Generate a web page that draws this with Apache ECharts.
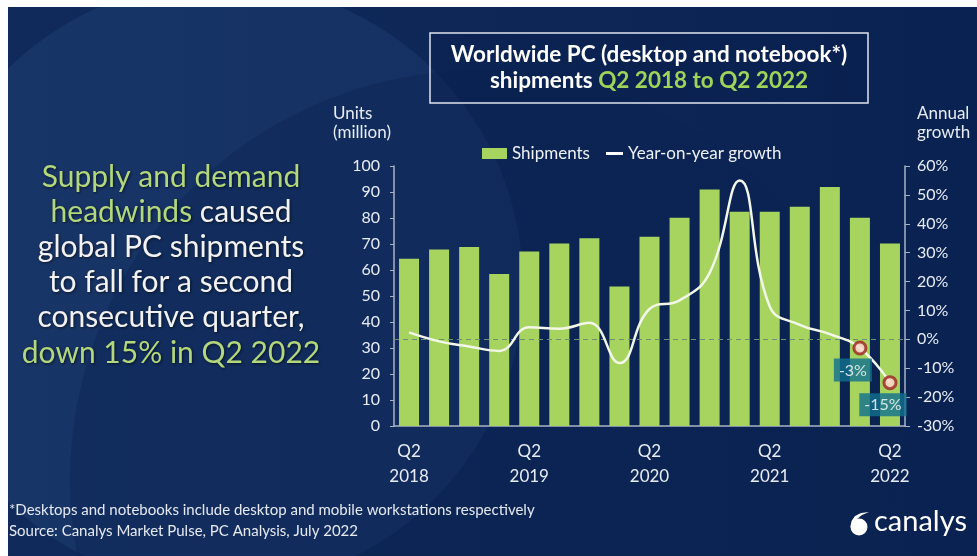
<!DOCTYPE html>
<html>
<head>
<meta charset="utf-8">
<script src="https://cdn.jsdelivr.net/npm/echarts@6/dist/echarts.min.js"></script>
<style>
html,body{margin:0;padding:0;background:#fff;}
#chart{width:977px;height:556px;}
</style>
</head>
<body>
<div id="chart"></div>
<script>
const categories = ['Q2 2018','Q3 2018','Q4 2018','Q1 2019','Q2 2019','Q3 2019','Q4 2019','Q1 2020','Q2 2020','Q3 2020','Q4 2020','Q1 2021','Q2 2021','Q3 2021','Q4 2021','Q1 2022','Q2 2022'];
const shipments = [64.3, 67.9, 68.8, 58.5, 67.1, 70.2, 72.2, 53.7, 72.8, 80.1, 91.0, 82.4, 82.4, 84.3, 91.9, 80.1, 70.2];
const growth = [2.4, -0.7, -2.5, -4.0, 4.2, 3.7, 5.7, -8.2, 10.5, 13.5, 23, 55, 11.4, 5.0, 1.8, -3, -15];
const highlightIdx = [15, 16];
const leftTicks = {min: 0, max: 100, interval: 10};
const rightTicks = {min: -30, max: 60, interval: 10};
const leftLines = [
  [{t:'Supply and demand', g:true}],
  [{t:'headwinds', g:true}, {t:' caused', g:false}],
  [{t:'global PC shipments', g:false}],
  [{t:'to fall for a second', g:false}],
  [{t:'consecutive quarter,', g:false}],
  [{t:'down 15% in Q2 2022', g:true}]
];

const FONT = 'Lato, "Open Sans", sans-serif';
const GREEN = '#a6d45e';
const TXTGREEN = '#b3d77c';
const AXIS = '#a9b3c6';

const chart = echarts.init(document.getElementById('chart'), null, {renderer: 'canvas'});

const graphics = [];
// background
graphics.push({type:'rect', z:-30, silent:true, shape:{x:0,y:0,width:977,height:556},
  style:{fill:{type:'linear',x:0,y:0,x2:1,y2:0,colorStops:[{offset:0,color:'#102b5b'},{offset:1,color:'#0a2252'}]}}});
graphics.push({type:'circle', z:-29, silent:true, shape:{cx:220,cy:285,r:303},
  style:{fill:'rgba(60,100,160,0.18)'}});
graphics.push({type:'circle', z:-28, silent:true, shape:{cx:480,cy:480,r:410},
  style:{fill:'rgba(10,34,80,0.4)'}});
// white frame strips (top and left)
graphics.push({type:'rect', z:-20, silent:true, shape:{x:0,y:0,width:977,height:7}, style:{fill:'#ffffff'}});
graphics.push({type:'rect', z:-20, silent:true, shape:{x:0,y:0,width:8,height:556}, style:{fill:'#ffffff'}});

// title box
graphics.push({type:'rect', z:50, silent:true, shape:{x:430,y:33,width:438,height:70},
  style:{fill:'rgba(8,28,70,0.25)', stroke:'#dfe4ee', lineWidth:1.5}});
graphics.push({type:'text', z:51, silent:true, x:649, y:55,
  style:{text:'Worldwide PC (desktop and notebook*)', font:'bold 22.5px ' + FONT, fill:'#ffffff', align:'center', verticalAlign:'middle'}});
graphics.push({type:'text', z:51, silent:true, x:649, y:81,
  style:{text:'{w|shipments }{g|Q2 2018 to Q2 2022}', align:'center', verticalAlign:'middle',
    rich:{w:{font:'bold 22.5px ' + FONT, fill:'#ffffff'}, g:{font:'bold 22.5px ' + FONT, fill:'#9fd35a'}}}});

// axis names
graphics.push({type:'text', z:51, silent:true, x:333, y:104,
  style:{text:'Units\n(million)', font:'17px ' + FONT, fill:'#e8ecf4', lineHeight:19, align:'left', verticalAlign:'top'}});
graphics.push({type:'text', z:51, silent:true, x:917, y:104,
  style:{text:'Annual\ngrowth', font:'17px ' + FONT, fill:'#e8ecf4', lineHeight:19, align:'left', verticalAlign:'top'}});

// left narrative text
leftLines.forEach((line, i) => {
  let txt = line.map(p => '{' + (p.g ? 'g' : 'w') + '|' + p.t + '}').join('');
  graphics.push({type:'text', z:51, silent:true, x:171, y:177 + i*35.2,
    style:{text:txt, align:'center', verticalAlign:'middle',
      rich:{g:{font:'30px ' + FONT, fill:TXTGREEN, textShadowColor:'rgba(0,0,0,0.6)', textShadowBlur:3, textShadowOffsetX:1, textShadowOffsetY:1},
            w:{font:'30px ' + FONT, fill:'#f2f2f2', textShadowColor:'rgba(0,0,0,0.6)', textShadowBlur:3, textShadowOffsetX:1, textShadowOffsetY:1}}}});
});

// footer
graphics.push({type:'text', z:51, silent:true, x:9, y:510,
  style:{text:'*Desktops and notebooks include desktop and mobile workstations respectively', font:'15px ' + FONT, fill:'#e6e9f0', verticalAlign:'middle'}});
graphics.push({type:'text', z:51, silent:true, x:9, y:531,
  style:{text:'Source: Canalys Market Pulse, PC Analysis, July 2022', font:'15px ' + FONT, fill:'#e6e9f0', verticalAlign:'middle'}});

// logo
graphics.push({type:'circle', z:51, silent:true, shape:{cx:859,cy:527,r:8.5}, style:{fill:'#ffffff'}});
graphics.push({type:'polygon', z:52, silent:true, shape:{points:[[850.6,527],[851.5,521],[855,516],[861,513],[869,512],[862,515],[857,519],[854,524],[853,528]]}, style:{fill:'#ffffff'}});
graphics.push({type:'text', z:51, silent:true, x:874, y:522,
  style:{text:'canalys', font:'29px ' + FONT, fill:'#ffffff', verticalAlign:'middle'}});

const option = {
  backgroundColor: 'transparent',
  animation: false,
  textStyle: {fontFamily: FONT},
  graphic: graphics,
  legend: [
    {
      left: 477, top: 140,
      itemWidth: 25, itemHeight: 11,
      textStyle: {color: '#eef1f6', fontSize: 17, fontFamily: FONT},
      data: [{name: 'Shipments', icon: 'rect'}]
    },
    {
      left: 601, top: 140,
      itemWidth: 17, itemHeight: 3, itemGap: 4,
      textStyle: {color: '#eef1f6', fontSize: 17, fontFamily: FONT},
      data: [{name: 'Year-on-year growth', icon: 'rect', itemStyle: {color: '#ffffff'}}]
    }
  ],
  grid: {left: 394, right: 72, top: 166, bottom: 130},
  xAxis: {
    type: 'category',
    data: categories,
    axisLine: {lineStyle: {color: AXIS, width: 1.5}},
    axisTick: {show: false},
    axisLabel: {
      interval: 3, color: '#e8ecf4', fontSize: 17, lineHeight: 25, margin: 13, fontFamily: FONT,
      formatter: v => v.replace(' ', '\n')
    }
  },
  yAxis: [
    {
      type: 'value', position: 'left',
      min: leftTicks.min, max: leftTicks.max, interval: leftTicks.interval,
      axisLine: {show: true, lineStyle: {color: AXIS, width: 1.5}},
      axisTick: {show: true, length: 4, lineStyle: {color: AXIS}},
      splitLine: {show: false},
      axisLabel: {color: '#e8ecf4', fontSize: 16, margin: 14, fontFamily: FONT}
    },
    {
      type: 'value', position: 'right',
      min: rightTicks.min, max: rightTicks.max, interval: rightTicks.interval,
      axisLine: {show: true, lineStyle: {color: AXIS, width: 1.5}},
      axisTick: {show: true, length: 5, lineStyle: {color: AXIS}},
      splitLine: {show: false},
      axisLabel: {color: '#e8ecf4', fontSize: 16, margin: 12, fontFamily: FONT, formatter: '{value}%'}
    }
  ],
  series: [
    {
      name: 'Shipments', type: 'bar', yAxisIndex: 0,
      data: shipments, barWidth: 20,
      itemStyle: {color: GREEN}
    },
    {
      name: 'Year-on-year growth', type: 'line', yAxisIndex: 1,
      data: growth, smooth: 0.45, symbol: 'none', z: 5,
      lineStyle: {color: '#f3f7ea', width: 2.5},
      itemStyle: {color: '#f3f7ea'},
      markLine: {
        silent: true, symbol: 'none', label: {show: false},
        lineStyle: {color: '#6f8f74', type: [5, 4], width: 1},
        data: [{yAxis: 0}]
      }
    },
    {
      name: 'highlight', type: 'scatter', yAxisIndex: 1, z: 6,
      data: highlightIdx.map(i => [i, growth[i]]),
      symbol: 'circle', symbolSize: 12,
      itemStyle: {color: '#ffd6d3', borderColor: '#9c2020', borderWidth: 3},
      label: {
        show: true, position: 'bottom', distance: 3,
        formatter: p => p.value[1] + '%',
        color: '#ffffff', fontSize: 16, fontFamily: FONT,
        backgroundColor: '#106f8d', padding: [4, 5, 3, 5],
        offset: [-7, 0]
      }
    }
  ]
};
chart.setOption(option);
</script>
</body>
</html>
